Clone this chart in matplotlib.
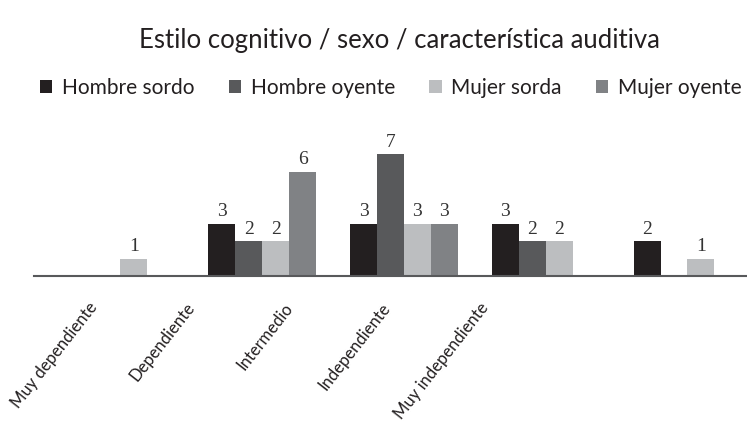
import numpy as np
from matplotlib import pyplot as plt

plt.rcParams['font.family'] = ['Lato', 'DejaVu Sans']

categorias = ["Muy dependiente", "Dependiente", "Intermedio", "Independiente", "Muy independiente"]
series = ["Hombre sordo", "Hombre oyente", "Mujer sorda", "Mujer oyente"]
hombre_sordo = [0, 3, 3, 3, 2]
hombre_oyente = [0, 2, 7, 2, 0]
mujer_sorda = [1, 2, 3, 2, 1]
mujer_oyente = [0, 6, 3, 0, 0]
valores = [hombre_sordo, hombre_oyente, mujer_sorda, mujer_oyente]
colores = ["#231f20", "#58595b", "#bcbec0", "#808285"]

fig = plt.figure(figsize=(7.47, 4.24), dpi=100)
ax = fig.add_axes([0.0455, 0.349, 0.9545, 0.328])

x = np.arange(len(categorias))
w = 0.19
for i, (nombre, vals, c) in enumerate(zip(series, valores, colores)):
    pos = x + (i - 1.5) * w
    v = np.array(vals)
    bars = ax.bar(pos[v > 0], v[v > 0], width=w, color=c, label=nombre)
    for b in bars:
        ax.text(b.get_x() + b.get_width() / 2, b.get_height() + 0.2,
                str(int(b.get_height())), ha='center', va='bottom',
                fontsize=14, color='#333333', family='Liberation Serif')

ax.set_xlim(-0.61, 4.42)
ax.set_ylim(0, 8)
for s in ['top', 'right', 'left']:
    ax.spines[s].set_visible(False)
ax.spines['bottom'].set_color('#58595b')
ax.spines['bottom'].set_linewidth(1.5)
ax.set_yticks([])

# etiquetas del eje, desplazadas como en el original
ax.set_xticks(np.arange(len(categorias)) * 0.69 - 0.23)
ax.set_xticklabels(categorias, rotation=52, ha='right', va='top',
                   rotation_mode='anchor', fontsize=12, color='#231f20')
ax.tick_params(axis='x', length=0, pad=17)

fig.text(0.535, 0.905, "Estilo cognitivo / sexo / característica auditiva",
         ha='center', va='center', fontsize=18.5, color='#231f20')

fig.legend(loc='center', bbox_to_anchor=(0.523, 0.792), ncol=4, frameon=False,
           fontsize=15, handlelength=0.6, handleheight=0.6, handletextpad=0.45,
           columnspacing=1.65, labelcolor='#231f20')

plt.savefig("out.png", dpi=100)
